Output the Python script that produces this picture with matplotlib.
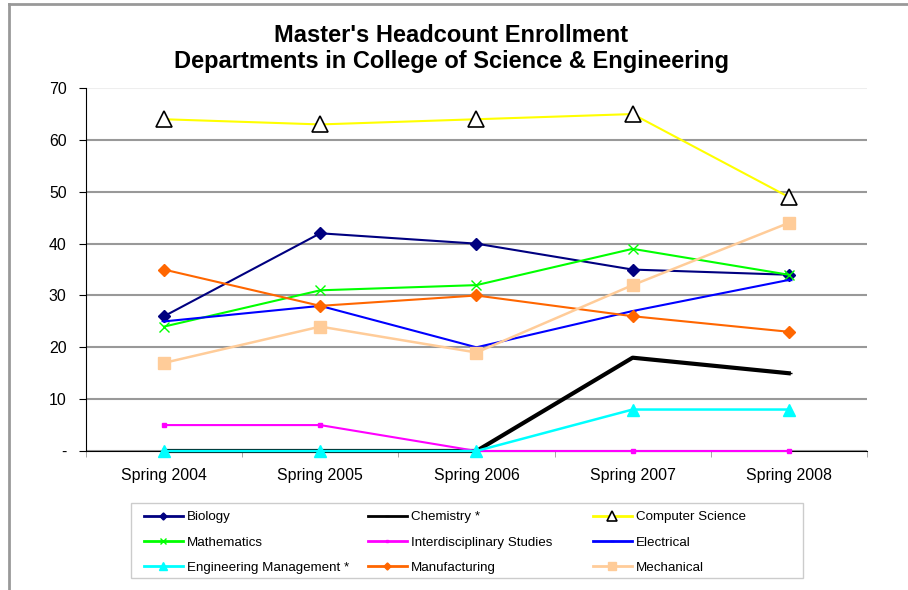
"""Master's headcount enrollment, College of Science & Engineering departments."""
import matplotlib

matplotlib.use("Agg")
import matplotlib.pyplot as plt  # noqa: E402
from matplotlib.lines import Line2D  # noqa: E402
from matplotlib.patches import Rectangle  # noqa: E402

plt.rcParams["font.family"] = ["Liberation Sans", "DejaVu Sans"]

terms = ["Spring 2004", "Spring 2005", "Spring 2006", "Spring 2007", "Spring 2008"]

biology = [26, 42, 40, 35, 34]
chemistry = [0, 0, 0, 18, 15]
computer_science = [64, 63, 64, 65, 49]
mathematics = [24, 31, 32, 39, 34]
interdisciplinary = [5, 5, 0, 0, 0]
electrical = [25, 28, 20, 27, 33]
eng_management = [0, 0, 0, 8, 8]
manufacturing = [35, 28, 30, 26, 23]
mechanical = [17, 24, 19, 32, 44]

yticks = [0, 10, 20, 30, 40, 50, 60, 70]
ytick_labels = ["-", "10", "20", "30", "40", "50", "60", "70"]

W, H = 908, 590
fig = plt.figure(figsize=(W / 100, H / 100), dpi=100)
ax = fig.add_axes([0.0947, 0.2356, 0.860, 0.615])
x = list(range(len(terms)))

series = [
    ("Biology", biology, dict(color="#000080", lw=1.5, marker="D", ms=6)),
    ("Chemistry *", chemistry, dict(color="black", lw=3, marker="_", ms=5)),
    ("Computer Science", computer_science,
     dict(color="#FFFF00", lw=1.5, marker="^", ms=11, mfc="white", mec="black", mew=1.2)),
    ("Mathematics", mathematics, dict(color="#00FF00", lw=1.5, marker="x", ms=7)),
    ("Interdisciplinary Studies", interdisciplinary,
     dict(color="#FF00FF", lw=1.5, marker="s", ms=3)),
    ("Electrical", electrical, dict(color="#0000FF", lw=1.5, marker="_", ms=5)),
    ("Engineering Management *", eng_management,
     dict(color="#00FFFF", lw=1.8, marker="^", ms=9)),
    ("Manufacturing", manufacturing, dict(color="#FF6600", lw=1.5, marker="D", ms=6)),
    ("Mechanical", mechanical, dict(color="#FFCC99", lw=1.8, marker="s", ms=9)),
]

handles = []
for label, vals, style in series:
    (h,) = ax.plot(x, vals, label=label, clip_on=False, zorder=3, **style)
    handles.append(h)

ax.set_xlim(-0.5, len(terms) - 0.5)
ax.set_ylim(0, 70)
ax.set_yticks(yticks)
ax.set_yticklabels(ytick_labels, fontsize=11.4)
ax.set_xticks(x)
ax.set_xticklabels(terms, fontsize=11.4)
ax.set_xticks([i - 0.5 for i in range(len(terms) + 1)], minor=True)
ax.tick_params(axis="x", which="major", length=0, pad=12)
ax.tick_params(axis="x", which="minor", length=4, direction="out", color="#999999")
ax.tick_params(axis="y", length=5, direction="out", pad=9)

ax.grid(axis="y", color="#999999", lw=1.5, zorder=0)
ax.yaxis.get_gridlines()[-1].set_color("#eeeeee")
ax.set_axisbelow(True)
for side in ("top", "right"):
    ax.spines[side].set_visible(False)

fig.text(0.497, 0.876, "Master's Headcount Enrollment\nDepartments in College of Science & Engineering",
         ha="center", va="bottom", fontsize=17, fontweight="bold", linespacing=1.2)

# legend: Excel-style box with three equal-width columns, filled row by row
fig.add_artist(Rectangle((131 / W, 1 - 578 / H), (803 - 131) / W, 75 / H,
                         transform=fig.transFigure, fill=False, edgecolor="#cccccc", lw=1))
col_x = [144, 368, 593]
for c, cx in enumerate(col_x):
    leg = fig.legend(handles=handles[c::3], loc="upper left",
                     bbox_to_anchor=(cx / W, 1 - 511 / H), frameon=False,
                     fontsize=9.6, handlelength=2.9, handletextpad=0.3,
                     borderpad=0, borderaxespad=0, labelspacing=0.98, markerscale=0.6)
    for line in leg.get_lines():
        line.set_linewidth(2)

# outer chart frame
fig.add_artist(Line2D([8.5 / W, 8.5 / W], [0, 1 - 3.5 / H],
                      transform=fig.transFigure, color="#999999", lw=2))
fig.add_artist(Line2D([8.5 / W, 1], [1 - 3.5 / H, 1 - 3.5 / H],
                      transform=fig.transFigure, color="#999999", lw=2))

fig.savefig("out.png", dpi=100)
